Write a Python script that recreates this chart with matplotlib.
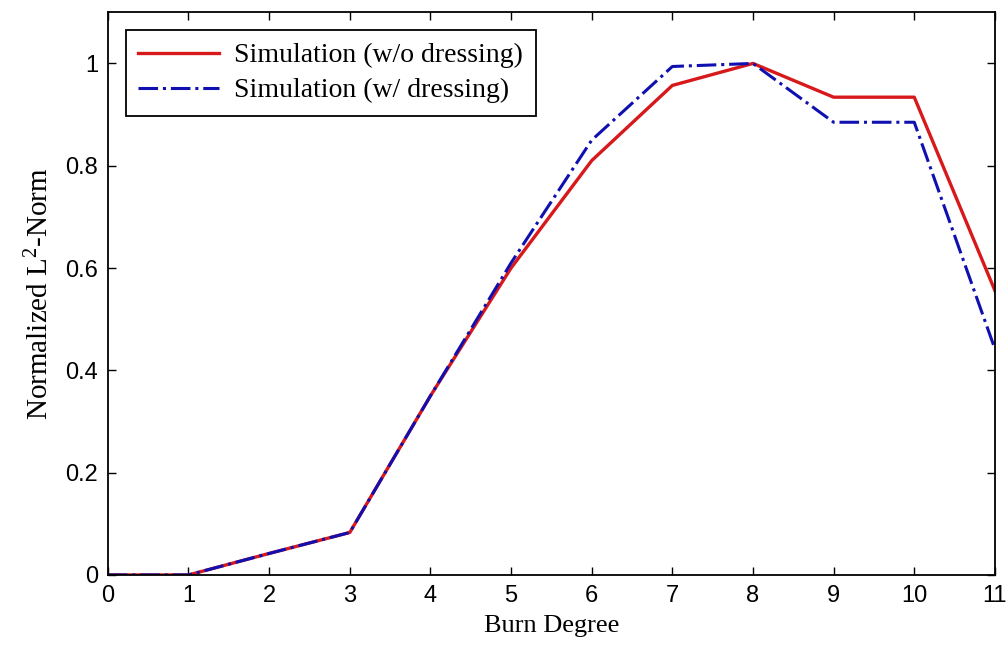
import matplotlib
matplotlib.use("Agg")
import matplotlib.pyplot as plt

burn_degree = [0, 1, 2, 3, 4, 5, 6, 7, 8, 9, 10, 11]
sim_no_dressing = [0, 0, 0.042, 0.083, 0.35, 0.60, 0.81, 0.957, 1.0, 0.934, 0.934, 0.556]
sim_dressing = [0, 0, 0.042, 0.083, 0.35, 0.61, 0.85, 0.994, 1.0, 0.885, 0.885, 0.442]

x_ticks = list(range(0, 12))
y_ticks = [0, 0.2, 0.4, 0.6, 0.8, 1]
y_tick_labels = ["0", "0.2", "0.4", "0.6", "0.8", "1"]

plt.rcParams["mathtext.fontset"] = "custom"
plt.rcParams["mathtext.rm"] = "Liberation Serif"

fig = plt.figure(figsize=(10.08, 6.46), dpi=100)
ax = fig.add_axes([0.107, 0.110, 0.880, 0.871])

ax.plot(burn_degree, sim_no_dressing, color="#d7191c", lw=2.4, linestyle="-",
        label="Simulation (w/o dressing)")
ax.plot(burn_degree, sim_dressing, color="#1010b0", lw=2.2, linestyle="-.",
        label="Simulation (w/ dressing)")

ax.set_xlim(0, 11)
ax.set_ylim(0, 1.1)
ax.set_xticks(x_ticks)
ax.set_yticks(y_ticks)
ax.set_yticklabels(y_tick_labels)
ax.tick_params(direction="in", top=True, right=True, length=6, width=1,
               labelsize=17, pad=7)
for lab in ax.get_xticklabels() + ax.get_yticklabels():
    lab.set_family("Liberation Sans")
for sp in ax.spines.values():
    sp.set_linewidth(1.3)

ax.set_xlabel("Burn Degree", family="Liberation Serif", fontsize=19, labelpad=6)
ax.set_ylabel(r"Normalized $\mathregular{L^2}$-Norm", family="Liberation Serif",
              fontsize=21, labelpad=8)

leg = ax.legend(loc="upper left", prop={"family": "Liberation Serif", "size": 20},
                frameon=True, fancybox=False, edgecolor="black", framealpha=1,
                borderaxespad=0.65, handlelength=2.9, labelspacing=0.35,
                borderpad=0.45, handletextpad=0.55)
leg.get_frame().set_linewidth(1.3)

fig.savefig("out.png", dpi=100)
